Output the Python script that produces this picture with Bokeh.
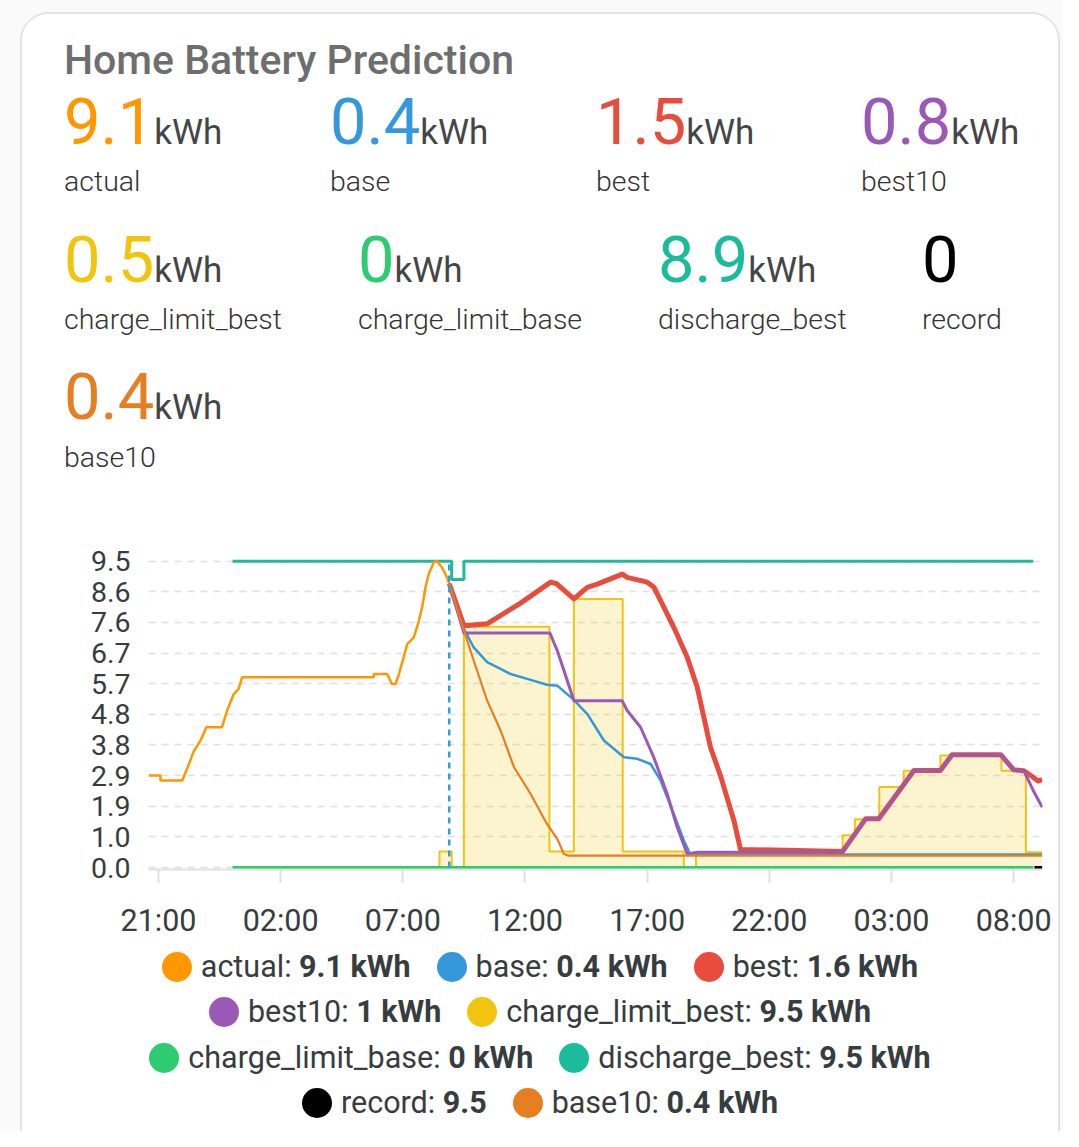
import pandas as pd
from bokeh.plotting import figure
from bokeh.models import (Div, Range1d, FixedTicker, DatetimeTickFormatter,
                          CustomJSTickFormatter)
from bokeh.layouts import column
from bokeh.embed import file_html
from bokeh.resources import INLINE

# ---------------- data (hours after 21:00 of day 1, kWh) ----------------
T0 = pd.Timestamp("2024-03-01 21:00")

actual_h = [-0.40, 0.08, 0.08, 0.97, 1.17, 1.44, 1.72, 1.96, 2.6, 2.81, 3.08, 3.28, 3.42,
            8.81, 8.81, 9.36, 9.55, 9.7, 9.84, 9.98, 10.18, 10.45, 10.66, 10.79, 10.93,
            11.06, 11.27, 11.4, 11.6, 11.81, 11.9]
actual_v = [2.85, 2.85, 2.70, 2.70, 3.06, 3.6, 3.94, 4.35, 4.35, 4.87, 5.38, 5.54, 5.9,
            5.9, 6.0, 6.0, 5.69, 5.69, 6.0, 6.37, 6.93, 7.14, 7.66, 8.07, 8.69,
            9.1, 9.47, 9.5, 9.31, 9.0, 8.8]

base_h = [11.9, 12.5, 12.9, 13.45, 14.0, 14.41, 15.09, 15.9, 16.32, 17.0, 17.55, 18.23,
          19.05, 19.6, 20.14, 20.55, 21.09, 21.5, 21.77, 36.17]
base_v = [8.8, 7.4, 6.83, 6.37, 6.16, 6.0, 5.85, 5.67, 5.64, 5.2, 4.76, 3.94,
          3.42, 3.37, 3.21, 2.7, 1.66, 0.84, 0.4, 0.4]

best_h = [11.9, 12.5, 13.45, 14.82, 16.05, 16.3, 17.0, 17.55, 17.96, 18.98, 19.18, 20.0,
          20.27, 20.55, 21.09, 21.64, 22.05, 22.32, 22.59, 23.0, 23.55, 23.82, 28.0,
          28.94, 29.48, 30.92, 32.0, 32.48, 34.47, 35.0, 35.42, 35.8, 36.0, 36.17]
best_v = [8.8, 7.5, 7.56, 8.2, 8.85, 8.8, 8.33, 8.69, 8.79, 9.1, 9.0, 8.85,
          8.7, 8.28, 7.45, 6.52, 5.59, 4.66, 3.73, 2.85, 1.46, 0.56, 0.5,
          1.51, 1.51, 3.01, 3.01, 3.5, 3.5, 3.03, 3.0, 2.8, 2.68, 2.73]

best10_h = [11.9, 12.5, 16.02, 16.32, 16.73, 17.0, 18.98, 19.18, 19.73, 20.27, 20.82, 21.23,
            21.64, 22.05, 28.0, 28.94, 29.48, 30.92, 32.0, 32.48, 34.47, 35.0, 35.42,
            35.8, 36.17]
best10_v = [8.8, 7.27, 7.27, 6.73, 5.8, 5.17, 5.17, 4.87, 4.35, 3.42, 2.28, 1.25,
            0.42, 0.47, 0.47, 1.51, 1.51, 3.01, 3.01, 3.5, 3.5, 3.03, 3.0,
            2.39, 1.87]

base10_h = [11.9, 12.5, 12.9, 13.45, 14.0, 14.55, 15.23, 15.9, 16.32, 16.59, 16.75, 36.17]
base10_v = [8.8, 7.35, 6.42, 5.18, 4.25, 3.11, 2.28, 1.35, 0.89, 0.42, 0.37, 0.37]

charge_limit_best_h = [11.0, 11.5, 12.0, 12.5, 16.0, 17.0, 19.0, 21.5, 22.0, 28.0, 28.5,
                       29.5, 30.5, 32.0, 34.5, 35.5, 36.17]
charge_limit_best_v = [0.0, 0.5, 0.0, 7.47, 0.5, 8.33, 0.5, 0.0, 0.47, 1.0, 1.5,
                       2.5, 3.0, 3.47, 3.0, 0.47, 0.47]

charge_limit_base_h = [3.03, 35.8]
charge_limit_base_v = [0.0, 0.0]

discharge_best_h = [3.03, 12.0, 12.5, 35.8]
discharge_best_v = [9.5, 8.93, 9.5, 9.5]

record_h = [35.85, 36.17]
record_v = [0.0, 0.0]

now_h = 11.9

y_ticks = [i * 0.95 for i in range(11)]
y_tick_labels = ["0.0", "1.0", "1.9", "2.9", "3.8", "4.8", "5.7", "6.7", "7.6", "8.6", "9.5"]
x_tick_h = [0, 5, 10, 15, 20, 25, 30, 35]   # 21:00, 02:00, ... 08:00

# header statistics and legend
series_names = ["actual", "base", "best", "best10", "charge_limit_best",
                "charge_limit_base", "discharge_best", "record", "base10"]
series_colors = ["#ff9800", "#3498db", "#e74c3c", "#9b59b6", "#f1c40f",
                 "#2ecc71", "#1abc9c", "#000000", "#e67e22"]
stat_values = ["9.1", "0.4", "1.5", "0.8", "0.5", "0", "8.9", "0", "0.4"]
stat_units = ["kWh", "kWh", "kWh", "kWh", "kWh", "kWh", "kWh", "", "kWh"]
legend_values = ["9.1 kWh", "0.4 kWh", "1.6 kWh", "1 kWh", "9.5 kWh", "0 kWh",
                 "9.5 kWh", "9.5", "0.4 kWh"]
title_text = "Home Battery Prediction"


def ts(hours):
    return [T0 + pd.Timedelta(hours=h) for h in hours]


def ms(h):
    return (T0 + pd.Timedelta(hours=h)).value / 1e6


# ---------------- figure ----------------
p = figure(width=1036, height=404, x_axis_type="datetime",
           x_range=Range1d(ts([-0.409])[0], ts([36.18])[0]),
           y_range=Range1d(-0.062, 9.677),
           output_backend="svg", toolbar_location=None,
           min_border_left=126, min_border_right=16, min_border_top=15,
           min_border_bottom=75, margin=0)
p.outline_line_color = None
p.background_fill_color = "white"
p.border_fill_color = "white"

yt = FixedTicker(ticks=y_ticks)
p.yaxis.ticker = yt
p.ygrid.ticker = yt
p.yaxis.formatter = CustomJSTickFormatter(args=dict(labels=y_tick_labels, step=0.95),
                                          code="return labels[Math.round(tick / step)];")
p.yaxis.axis_line_color = None
p.yaxis.major_tick_line_color = None
p.yaxis.minor_tick_line_color = None
p.yaxis.major_tick_in = 0
p.yaxis.major_tick_out = 0
p.yaxis.minor_tick_out = 0
p.yaxis.major_label_standoff = 18
p.yaxis.major_label_text_font = "Roboto"
p.yaxis.major_label_text_font_size = "28.5px"
p.yaxis.major_label_text_color = "#373d3f"

p.xaxis.ticker = FixedTicker(ticks=[ms(h) for h in x_tick_h])
p.xaxis.formatter = DatetimeTickFormatter(hours="%H:%M", hourmin="%H:%M",
                                          days="%H:%M", minutes="%H:%M")
p.xaxis.axis_line_color = "#e0e0e0"
p.xaxis.axis_line_width = 2
p.xaxis.major_tick_line_color = "#e0e0e0"
p.xaxis.major_tick_line_width = 2
p.xaxis.major_tick_in = 0
p.xaxis.major_tick_out = 13
p.xaxis.minor_tick_line_color = None
p.xaxis.major_label_standoff = 20
p.xaxis.major_label_text_font = "Roboto"
p.xaxis.major_label_text_font_size = "30.5px"
p.xaxis.major_label_text_color = "#373d3f"

p.xgrid.visible = False
p.ygrid.grid_line_color = "#e0e0e0"
p.ygrid.grid_line_dash = "7 6"
p.ygrid.grid_line_width = 1.5

c = dict(zip(series_names, series_colors))

# charge_limit_best: stepped area
p.varea_step(x=ts(charge_limit_best_h), y1=0, y2=charge_limit_best_v, step_mode="after",
             fill_color=c["charge_limit_best"], fill_alpha=0.2)
p.step(ts(charge_limit_best_h), charge_limit_best_v, mode="after",
       line_color=c["charge_limit_best"], line_width=2)

p.line(ts(charge_limit_base_h), charge_limit_base_v, line_color=c["charge_limit_base"],
       line_width=3)
p.step(ts(discharge_best_h), discharge_best_v, mode="after",
       line_color=c["discharge_best"], line_width=3)
p.line(ts(actual_h), actual_v, line_color=c["actual"], line_width=2.5)
p.line(ts(base_h), base_v, line_color=c["base"], line_width=2.5)
p.line(ts(best_h), best_v, line_color=c["best"], line_width=5, line_join="round")
p.line(ts(best10_h), best10_v, line_color=c["best10"], line_width=3, line_join="round")
p.line(ts(record_h), record_v, line_color=c["record"], line_width=3)
p.line(ts(base10_h), base10_v, line_color=c["base10"], line_width=2.2)
# "now" marker
p.segment(x0=ts([now_h]), y0=[0], x1=ts([now_h]), y1=[max(discharge_best_v)],
          line_color="#2e9fd8", line_width=2.5, line_dash="6 5")

# ---------------- header ----------------
FONT = "font-family:Roboto,'Noto Sans',sans-serif;"
stat_left = [42, 308, 574, 839, 42, 336, 636, 900, 42]
stat_row = [0, 0, 0, 0, 1, 1, 1, 1, 2]
num_base = [131, 269, 406]
lab_base = [178, 316, 454]
NUM_FS, UNIT_FS, LAB_FS, TITLE_FS = 65, 35, 28.5, 41

parts = [f'<div style="position:relative;width:1036px;height:526px;{FONT}">']
parts.append(f'<div style="position:absolute;left:42px;top:{60 - 0.842 * TITLE_FS:.1f}px;'
             f'font-size:{TITLE_FS}px;line-height:{TITLE_FS}px;font-weight:500;color:#6e6e6e;'
             f'white-space:nowrap;">{title_text}</div>')
for i, name in enumerate(series_names):
    r = stat_row[i]
    top_n = num_base[r] - 0.842 * NUM_FS
    top_l = lab_base[r] - 0.842 * LAB_FS
    unit = (f'<span style="font-size:{UNIT_FS}px;color:#454545;">'
            f'{stat_units[i]}</span>') if stat_units[i] else ""
    parts.append(f'<div style="position:absolute;left:{stat_left[i]}px;top:{top_n:.1f}px;'
                 f'font-size:{NUM_FS}px;line-height:{NUM_FS}px;white-space:nowrap;">'
                 f'<span style="color:{series_colors[i]};">{stat_values[i]}</span>{unit}</div>')
    parts.append(f'<div style="position:absolute;left:{stat_left[i]}px;top:{top_l:.1f}px;'
                 f'font-size:{LAB_FS}px;line-height:{LAB_FS}px;font-weight:300;color:#333;'
                 f'white-space:nowrap;">{name}</div>')
parts.append('</div>')
header = Div(text="".join(parts), width=1036, height=526, margin=0)

# ---------------- legend ----------------
legend_rows = [[0, 1, 2], [3, 4], [5, 6], [7, 8]]
lp = [f'<div style="width:1036px;{FONT}font-size:30.5px;color:#373d3f;">']
for row in legend_rows:
    lp.append('<div style="display:flex;justify-content:center;align-items:center;'
              'height:45.5px;gap:26px;white-space:nowrap;">')
    for i in row:
        lp.append('<div style="display:flex;align-items:center;">'
                  f'<span style="display:inline-block;width:30px;height:30px;border-radius:50%;'
                  f'background:{series_colors[i]};margin-right:9px;"></span>'
                  f'<span>{series_names[i]}: <b>{legend_values[i]}</b></span></div>')
    lp.append('</div>')
lp.append('</div>')
legend = Div(text="".join(lp), width=1036, height=187, margin=0)

card = column(header, p, legend, width=1036, height=1117, margin=(14, 0, 0, 22),
              styles={"background-color": "white", "border-radius": "26px 26px 0 0",
                      "box-shadow": "0 -2px 0 0 #e3e3e3, 2px 0 0 0 #e3e3e3, -2px 0 0 0 #e3e3e3"})
root = column(card, width=1063, height=1131, margin=0,
              styles={"background-color": "#fafafa"})

open("out.html", "w").write(file_html(root, INLINE))
